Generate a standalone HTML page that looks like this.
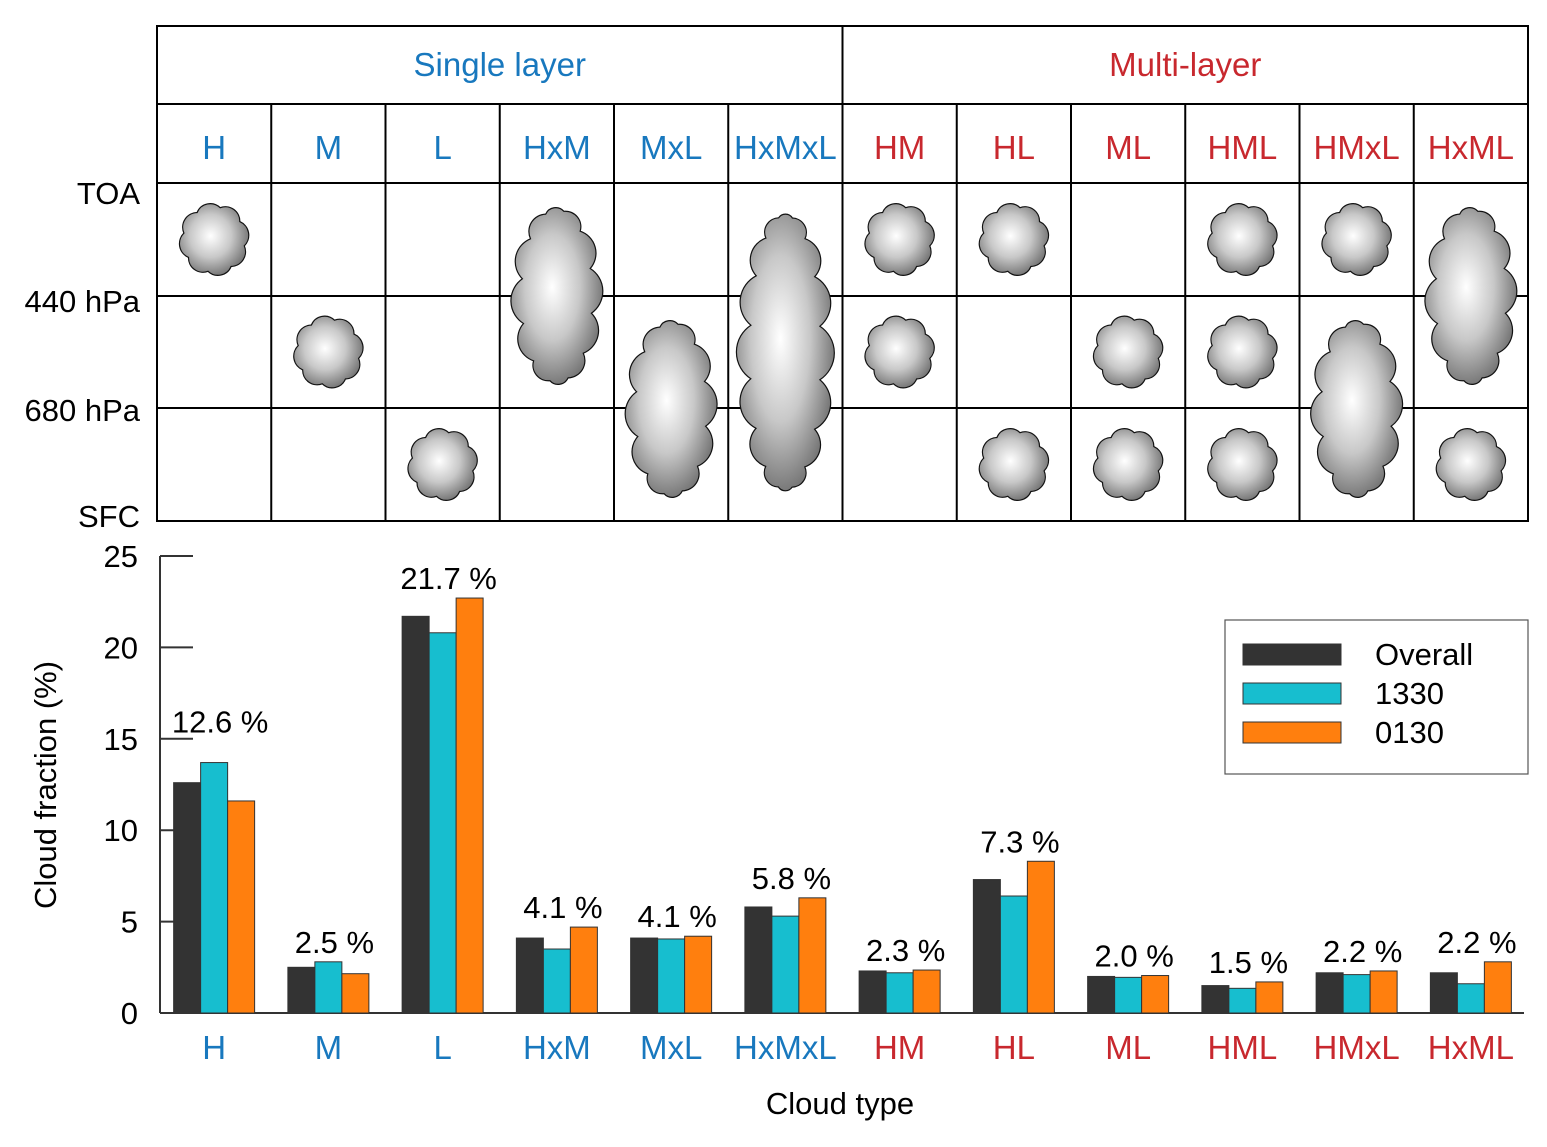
<!DOCTYPE html>
<html><head><meta charset="utf-8"><style>
html,body{margin:0;padding:0;background:#fff;}
svg{display:block;font-family:"Liberation Sans",Arial,sans-serif;}
</style></head><body>
<svg id="fig" width="1547" height="1147" viewBox="0 0 1547 1147" xmlns="http://www.w3.org/2000/svg">
<defs>
<radialGradient id="cg" cx="0.45" cy="0.45" r="0.6">
<stop offset="0" stop-color="#ffffff"/><stop offset="0.5" stop-color="#c8c8c8"/><stop offset="1" stop-color="#6a6a6a"/>
</radialGradient>
</defs>
<g id="table"></g>
<g id="clouds"></g>
<g id="chart"></g>
</svg>
<script>
const categories=["H","M","L","HxM","MxL","HxMxL","HM","HL","ML","HML","HMxL","HxML"];
const multi=[false,false,false,false,false,false,true,true,true,true,true,true];
const overall=[12.6,2.5,21.7,4.1,4.1,5.8,2.3,7.3,2.0,1.5,2.2,2.2];
const s1330=[13.7,2.8,20.8,3.5,4.05,5.3,2.2,6.4,1.95,1.35,2.1,1.6];
const s0130=[11.6,2.15,22.7,4.7,4.2,6.3,2.35,8.3,2.05,1.7,2.3,2.8];
const labels=["12.6 %","2.5 %","21.7 %","4.1 %","4.1 %","5.8 %","2.3 %","7.3 %","2.0 %","1.5 %","2.2 %","2.2 %"];
const yTicks=[0,5,10,15,20,25];
const seriesNames=["Overall","1330","0130"];
// cloud layout: [columnIndex, topRow, bottomRow] rows 0=high,1=mid,2=low
const cloudCells=[[0,0,0],[1,1,1],[2,2,2],[3,0,1],[4,1,2],[5,0,2],[6,0,0],[6,1,1],[7,0,0],[7,2,2],[8,1,1],[8,2,2],[9,0,0],[9,1,1],[9,2,2],[10,0,0],[10,1,2],[11,0,1],[11,2,2]];

const NS="http://www.w3.org/2000/svg";
const BLUE="#1878be",RED="#c8282e";
const colors=["#333333","#17becf","#ff7f0e"];
function mk(tag,attrs,parent){const e=document.createElementNS(NS,tag);for(const k in attrs)e.setAttribute(k,attrs[k]);parent.appendChild(e);return e;}

const T=document.getElementById('table');
const X0=157,X1=1528,cw=(X1-X0)/12;
const rowsY=[183,296,408,521];
const colX=i=>X0+i*cw;
mk('rect',{x:X0,y:26,width:X1-X0,height:521-26,fill:'none',stroke:'#000','stroke-width':2},T);
[104,183,296,408].forEach(y=>mk('line',{x1:X0,x2:X1,y1:y,y2:y,stroke:'#000','stroke-width':2},T));
for(let i=1;i<12;i++){mk('line',{x1:colX(i),x2:colX(i),y1:i===6?26:104,y2:521,stroke:'#000','stroke-width':2},T);}
let t=mk('text',{x:(colX(0)+colX(6))/2,y:76,'text-anchor':'middle','font-size':33,fill:BLUE},T);t.textContent="Single layer";

t=mk('text',{x:(colX(6)+colX(12))/2,y:76,'text-anchor':'middle','font-size':33,fill:RED},T);t.textContent="Multi-layer";

categories.forEach((c,i)=>{const e=mk('text',{x:colX(i)+cw/2,y:159,'text-anchor':'middle','font-size':33,fill:multi[i]?RED:BLUE},T);e.textContent=c;
});
[["TOA",193],["440 hPa",301],["680 hPa",410],["SFC",516]].forEach(([s,y])=>{const e=mk('text',{x:140,y:y+11,'text-anchor':'end','font-size':31,fill:'#000'},T);e.textContent=s;
});

const C=document.getElementById('clouds');
function cloudPath(cx,cy,w,h,n){const a=w/2,b=h/2;let pts=[];for(let k=0;k<n;k++){const th=-Math.PI/2+k*2*Math.PI/n+0.2;pts.push([cx+a*0.88*Math.cos(th),cy+b*0.9*Math.sin(th)]);}
let d="M"+pts[0][0].toFixed(1)+","+pts[0][1].toFixed(1);for(let k=1;k<=n;k++){const p=pts[k%n],q=pts[k-1];const r=Math.hypot(p[0]-q[0],p[1]-q[1])*0.6;d+=" A"+r.toFixed(1)+","+r.toFixed(1)+" 0 0 1 "+p[0].toFixed(1)+","+p[1].toFixed(1);}return d+"Z";}
cloudCells.forEach(([col,r0,r1])=>{const cx=colX(col)+cw/2;let cy,w,h,n;
if(r0===r1){cy=(rowsY[r0]+rowsY[r0+1])/2;w=70;h=72;n=8;}
else{const top=rowsY[r0]+17,bot=rowsY[r1+1]-16;cy=(top+bot)/2;h=bot-top;w=80;n=r1-r0===2?16:12;}
const p=mk('path',{d:cloudPath(cx,cy,w,h,n),fill:'url(#cg)',stroke:'#111','stroke-width':1.2},C);
});

const G=document.getElementById('chart');
const AX=160,Y0=1013,Y25=556,XR=1524;
const y=v=>Y0-(v/25)*(Y0-Y25);
const bw=27;
mk('line',{x1:AX,x2:AX,y1:Y25,y2:Y0,stroke:'#333','stroke-width':2},G);
mk('line',{x1:AX,x2:XR,y1:Y0,y2:Y0,stroke:'#333','stroke-width':2},G);
yTicks.forEach(v=>{mk('line',{x1:AX,x2:193,y1:y(v),y2:y(v),stroke:'#333','stroke-width':2},G);
const e=mk('text',{x:138,y:y(v)+11,'text-anchor':'end','font-size':31,fill:'#000'},G);e.textContent=v;
});
const series=[overall,s1330,s0130];
categories.forEach((c,i)=>{const cx=colX(i)+cw/2;
series.forEach((s,j)=>{const r=mk('rect',{x:cx-1.5*bw+j*bw,y:y(s[i]),width:bw,height:Y0-y(s[i]),fill:colors[j],stroke:'#333','stroke-width':1},G);
});
const mx=Math.max(overall[i],s1330[i],s0130[i]);
const ly=i===0?y(mx)-30:y(mx)-9;
const lt=mk('text',{x:cx+6,y:ly,'text-anchor':'middle','font-size':31,fill:'#000'},G);lt.textContent=labels[i];

const xl=mk('text',{x:cx,y:1059,'text-anchor':'middle','font-size':33,fill:multi[i]?RED:BLUE},G);xl.textContent=c;
});
let at=mk('text',{x:840,y:1114,'text-anchor':'middle','font-size':31,fill:'#000'},G);at.textContent="Cloud type";

at=mk('text',{x:0,y:0,'text-anchor':'middle','font-size':31,fill:'#000',transform:'translate(56,785) rotate(-90)'},G);at.textContent="Cloud fraction (%)";

const L=mk('g',{},G);
mk('rect',{x:1225,y:620,width:303,height:154,fill:'#fff',stroke:'#555','stroke-width':1.2},L);
seriesNames.forEach((n,j)=>{const yy=644+j*39;
const sw=mk('rect',{x:1243,y:yy,width:98,height:21,fill:colors[j],stroke:'#333','stroke-width':1},L);

const e=mk('text',{x:1375,y:yy+21,'font-size':31,fill:'#000'},L);e.textContent=n;
});
</script>
</body></html>
